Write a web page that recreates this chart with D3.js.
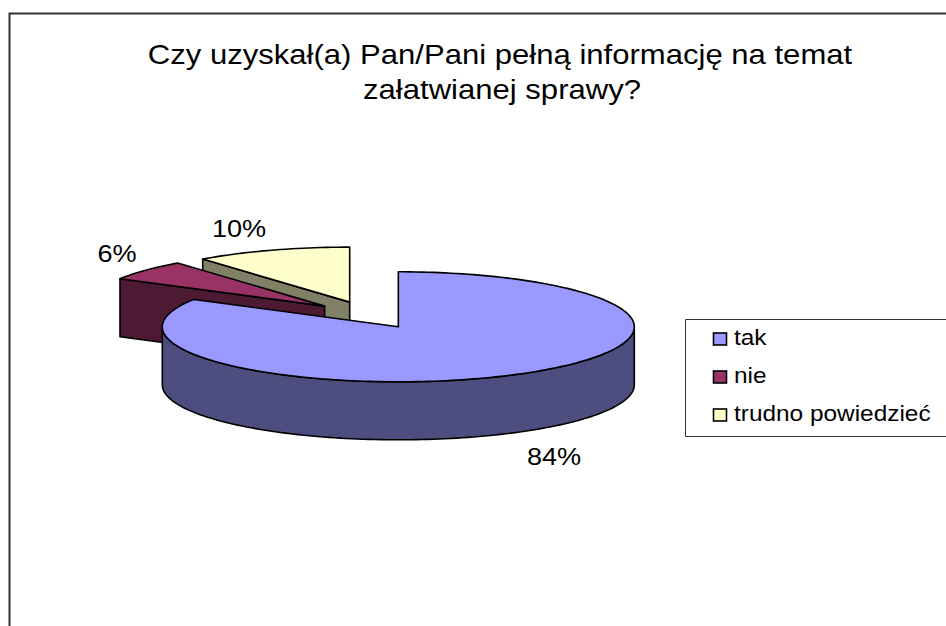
<!DOCTYPE html>
<html>
<head>
<meta charset="utf-8">
<script src="https://cdn.jsdelivr.net/npm/d3@7"></script>
<style>
  html, body { margin: 0; padding: 0; background: #fff; overflow: hidden; }
  text { font-family: "Liberation Sans", Arial, sans-serif; fill: #000; }
</style>
</head>
<body>
<div id="chart"></div>
<script>
const categories = ['tak', 'nie', 'trudno powiedzieć'];
const values = [84, 6, 10];
// angular shares as drawn, the 3D view skews them away from the printed values
const drawnShares = [83.3, 6, 10.7];
const topColors = ['#9999ff', '#993366', '#ffffcc'];
const wallColors = ['#4d4d7f', '#4d1a33', '#808066'];
const titleLines = ['Czy uzyskał(a) Pan/Pani pełną informację na temat', 'załatwianej sprawy?'];

const width = 946, height = 626;

// pie geometry
const cx = 369, cy = 315;
const rx = 236, ry = 55, depth = 58;
const explode = 0.248;
// the reference text is stretched sideways
const stretch = 1.13;

const svg = d3.select('#chart')
  .append('svg')
    .attr('width', width)
    .attr('height', height);

// frame
svg.append('path')
  .attr('d', `M9.5,${height}V13.5H${width}`)
  .attr('fill', 'none')
  .attr('stroke', '#333')
  .attr('stroke-width', 2);

// title
svg.append('g')
  .selectAll('text')
  .data(titleLines)
  .join('text')
    .attr('text-anchor', 'middle')
    .attr('font-size', 27.5)
    .attr('transform', (_, i) => `translate(${500 + i * 2},${64 + i * 35}) scale(${stretch},1)`)
    .text(d => d);

const pie = d3.pie().sort(null);
const slices = pie(drawnShares);
const line = d3.line();

// angle 0 is 12 o'clock, clockwise, squashed into an ellipse
const project = (a, c, dy = 0) => [c[0] + rx * Math.sin(a), c[1] - ry * Math.cos(a) + dy];

function sliceCenter(s) {
  const mid = (s.startAngle + s.endAngle) / 2;
  return project(mid, [cx, cy]).map((v, i) => [cx, cy][i] + (v - [cx, cy][i]) * explode);
}

function arcPoints(a0, a1, c, dy = 0) {
  const n = Math.max(2, Math.ceil((a1 - a0) * 40));
  return d3.range(n + 1).map(i => project(a0 + (a1 - a0) * i / n, c, dy));
}

// back to front: trudno, nie, tak
[2, 1, 0].forEach(i => {
  const s = slices[i];
  const c = sliceCenter(s);
  const g = svg.append('g').attr('stroke', '#000').attr('stroke-width', 1.6).attr('stroke-linejoin', 'round');

  // rim wall, front half of the ellipse only
  const a0 = Math.max(s.startAngle, Math.PI / 2);
  const a1 = Math.min(s.endAngle, Math.PI * 1.5);
  if (a1 > a0) {
    const upper = arcPoints(a0, a1, c);
    const lower = arcPoints(a0, a1, c, depth).reverse();
    g.append('path')
      .attr('d', line(upper.concat(lower)) + 'Z')
      .attr('fill', wallColors[i]);
  }

  // cut wall along the start edge, seen when it faces the viewer
  if (i > 0) {
    const rim = project(s.startAngle, c);
    g.append('path')
      .attr('d', line([c, rim, [rim[0], rim[1] + depth], [c[0], c[1] + depth]]) + 'Z')
      .attr('fill', wallColors[i]);
  }

  // top face
  g.append('path')
    .attr('d', line([c].concat(arcPoints(s.startAngle, s.endAngle, c))) + 'Z')
    .attr('fill', topColors[i]);
});

// value labels
const labelPos = [[554, 465], [117, 262], [239, 237]];
svg.append('g')
  .selectAll('text')
  .data(values)
  .join('text')
    .attr('font-size', 24)
    .attr('text-anchor', 'middle')
    .attr('transform', (_, i) => `translate(${labelPos[i][0]},${labelPos[i][1]}) scale(${stretch},1)`)
    .text(d => `${d}%`);

// legend
const legend = svg.append('g');
legend.append('path')
  .attr('d', `M${width},319.5H685.5V436.5H${width}`)
  .attr('fill', '#fff')
  .attr('stroke', '#333')
  .attr('stroke-width', 1);

const legendY = d3.scalePoint()
  .domain(categories)
  .range([339, 415]);

const item = legend.selectAll('g')
  .data(categories)
  .join('g')
    .attr('transform', d => `translate(0,${legendY(d)})`);

item.append('rect')
  .attr('x', 713.5)
  .attr('y', -6)
  .attr('width', 13)
  .attr('height', 12)
  .attr('fill', (_, i) => topColors[i])
  .attr('stroke', '#000')
  .attr('stroke-width', 1.6);

item.append('text')
  .attr('font-size', 21.6)
  .attr('transform', `translate(734,6) scale(${stretch},1)`)
  .text(d => d);
</script>
</body>
</html>
